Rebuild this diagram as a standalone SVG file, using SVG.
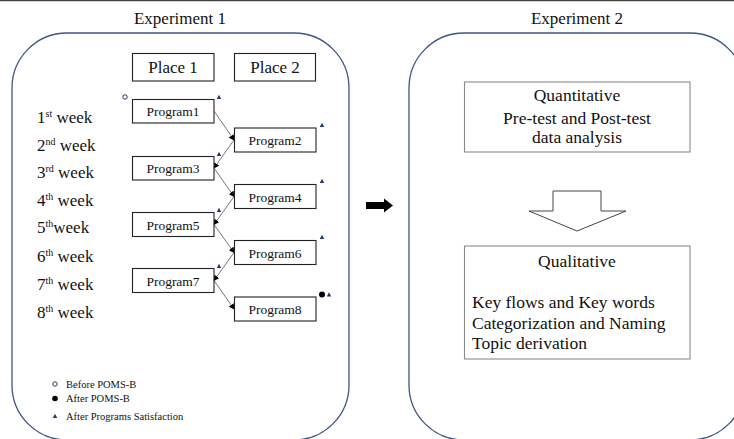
<svg xmlns="http://www.w3.org/2000/svg" width="734" height="439" viewBox="0 0 734 439">
<style>
text{font-family:"Liberation Serif","Times New Roman",serif;fill:#111;}
.title{font-size:17px;text-anchor:middle;}
.place{font-size:17px;text-anchor:middle;}
.prog{font-size:13.5px;text-anchor:middle;}
.week{font-size:17px;}
.sup{font-size:10px;}
.leg{font-size:10.5px;}
.big{font-size:17.5px;}
.frame{fill:none;stroke:#3b5685;stroke-width:1.3;}
.pbox{fill:#fff;stroke:#222;stroke-width:1.1;}
.gbox{fill:#fff;stroke:#8a8a8a;stroke-width:1.1;}
.conn{stroke:#555;stroke-width:0.8;fill:none;}
.tri{fill:#1f3864;}
</style>
<defs>
<marker id="ah" markerWidth="6" markerHeight="6" refX="5" refY="3" orient="auto" markerUnits="userSpaceOnUse">
<path d="M0,0 L6,3 L0,6 Z" fill="#000"/>
</marker>
<path id="tri" d="M0,-2.3 L2.2,2 L-2.2,2 Z"/>
</defs>
<rect width="734" height="439" fill="#fff"/>
<line x1="0" y1="0.5" x2="734" y2="0.5" stroke="#444" stroke-width="1.5"/>

<g id="experiment1">
<text class="title" x="180" y="24">Experiment 1</text>
<rect class="frame" x="12" y="33" width="337" height="407" rx="55" ry="55"/>
</g>

<g id="place1"><rect class="pbox" x="132.5" y="53.5" width="81.5" height="27.5"/><text class="place" x="173" y="73">Place 1</text></g>
<g id="place2"><rect class="pbox" x="234.5" y="53.5" width="81" height="27.5"/><text class="place" x="275" y="73">Place 2</text></g>

<g id="weeks">
<text class="week" x="37" y="123">1<tspan class="sup" dy="-6">st</tspan><tspan dy="6"> week</tspan></text>
<text class="week" x="37" y="150.5">2<tspan class="sup" dy="-6">nd</tspan><tspan dy="6"> week</tspan></text>
<text class="week" x="37" y="178">3<tspan class="sup" dy="-6">rd</tspan><tspan dy="6"> week</tspan></text>
<text class="week" x="37" y="205.5">4<tspan class="sup" dy="-6">th</tspan><tspan dy="6"> week</tspan></text>
<text class="week" x="37" y="233">5<tspan class="sup" dy="-6">th</tspan><tspan dy="6">week</tspan></text>
<text class="week" x="37" y="261.5">6<tspan class="sup" dy="-6">th</tspan><tspan dy="6"> week</tspan></text>
<text class="week" x="37" y="290">7<tspan class="sup" dy="-6">th</tspan><tspan dy="6"> week</tspan></text>
<text class="week" x="37" y="318">8<tspan class="sup" dy="-6">th</tspan><tspan dy="6"> week</tspan></text>
</g>

<g id="connectors">
<line class="conn" x1="214" y1="111" x2="234" y2="140" marker-end="url(#ah)"/>
<line class="conn" x1="234" y1="140" x2="214" y2="168" marker-end="url(#ah)"/>
<line class="conn" x1="214" y1="168" x2="234" y2="196.5" marker-end="url(#ah)"/>
<line class="conn" x1="234" y1="196.5" x2="214" y2="224.5" marker-end="url(#ah)"/>
<line class="conn" x1="214" y1="224.5" x2="234" y2="252.5" marker-end="url(#ah)"/>
<line class="conn" x1="234" y1="252.5" x2="214" y2="280.5" marker-end="url(#ah)"/>
<line class="conn" x1="214" y1="280.5" x2="234" y2="309" marker-end="url(#ah)"/>
</g>

<g id="program1"><rect class="pbox" x="132.5" y="99.5" width="81.5" height="23.5"/><text class="prog" x="173" y="116">Program1</text></g>
<g id="program2"><rect class="pbox" x="234.5" y="128" width="81.5" height="24"/><text class="prog" x="275" y="145">Program2</text></g>
<g id="program3"><rect class="pbox" x="132.5" y="156.5" width="81.5" height="23.5"/><text class="prog" x="173" y="173">Program3</text></g>
<g id="program4"><rect class="pbox" x="234.5" y="184.5" width="81.5" height="24"/><text class="prog" x="275" y="201.5">Program4</text></g>
<g id="program5"><rect class="pbox" x="132.5" y="212.5" width="81.5" height="24"/><text class="prog" x="173" y="229.5">Program5</text></g>
<g id="program6"><rect class="pbox" x="234.5" y="240.5" width="81.5" height="24"/><text class="prog" x="275" y="257.5">Program6</text></g>
<g id="program7"><rect class="pbox" x="132.5" y="268.5" width="81.5" height="24"/><text class="prog" x="173" y="285.5">Program7</text></g>
<g id="program8"><rect class="pbox" x="234.5" y="297" width="81.5" height="24"/><text class="prog" x="275" y="314">Program8</text></g>

<g id="markers">
<circle cx="125" cy="97" r="2.2" fill="none" stroke="#1f3864" stroke-width="1"/>
<use href="#tri" class="tri" x="219" y="97"/>
<use href="#tri" class="tri" x="322" y="125"/>
<use href="#tri" class="tri" x="219" y="154"/>
<use href="#tri" class="tri" x="322" y="181"/>
<use href="#tri" class="tri" x="219" y="210"/>
<use href="#tri" class="tri" x="322" y="237"/>
<use href="#tri" class="tri" x="219" y="266"/>
<circle cx="322" cy="294.5" r="3" fill="#000"/>
<use href="#tri" class="tri" x="329" y="294.5"/>
</g>

<g id="legend">
<circle cx="55" cy="384" r="2.2" fill="none" stroke="#1f3864" stroke-width="1"/>
<text class="leg" x="66" y="387.5">Before POMS-B</text>
<circle cx="55" cy="398.5" r="2.8" fill="#000"/>
<text class="leg" x="66" y="402">After POMS-B</text>
<use href="#tri" class="tri" x="55" y="416"/>
<text class="leg" x="66" y="419.5">After Programs Satisfaction</text>
</g>

<g id="transition-arrow">
<path d="M366,202 L384,202 L384,198.5 L393,205.5 L384,212.5 L384,209 L366,209 Z" fill="#000"/>
</g>

<g id="experiment2">
<text class="title" x="577" y="24">Experiment 2</text>
<rect class="frame" x="409" y="33" width="336" height="407" rx="55" ry="55"/>
</g>

<g id="quantitative">
<rect class="gbox" x="464.5" y="82" width="225.5" height="70"/>
<text class="big" x="577" y="101" text-anchor="middle">Quantitative</text>
<text class="big" x="577" y="123.5" text-anchor="middle">Pre-test and Post-test</text>
<text class="big" x="577" y="143" text-anchor="middle">data analysis</text>
</g>

<g id="down-arrow">
<path d="M553,191 L601,191 L601,211 L626,211 L577,231 L529,211 L553,211 Z" fill="#fff" stroke="#444" stroke-width="1"/>
</g>

<g id="qualitative">
<rect class="gbox" x="464.5" y="246" width="225.5" height="113"/>
<text class="big" x="577" y="267" text-anchor="middle">Qualitative</text>
<text class="big" x="472" y="308">Key flows and Key words</text>
<text class="big" x="472" y="328.5">Categorization and Naming</text>
<text class="big" x="472" y="349">Topic derivation</text>
</g>
</svg>
